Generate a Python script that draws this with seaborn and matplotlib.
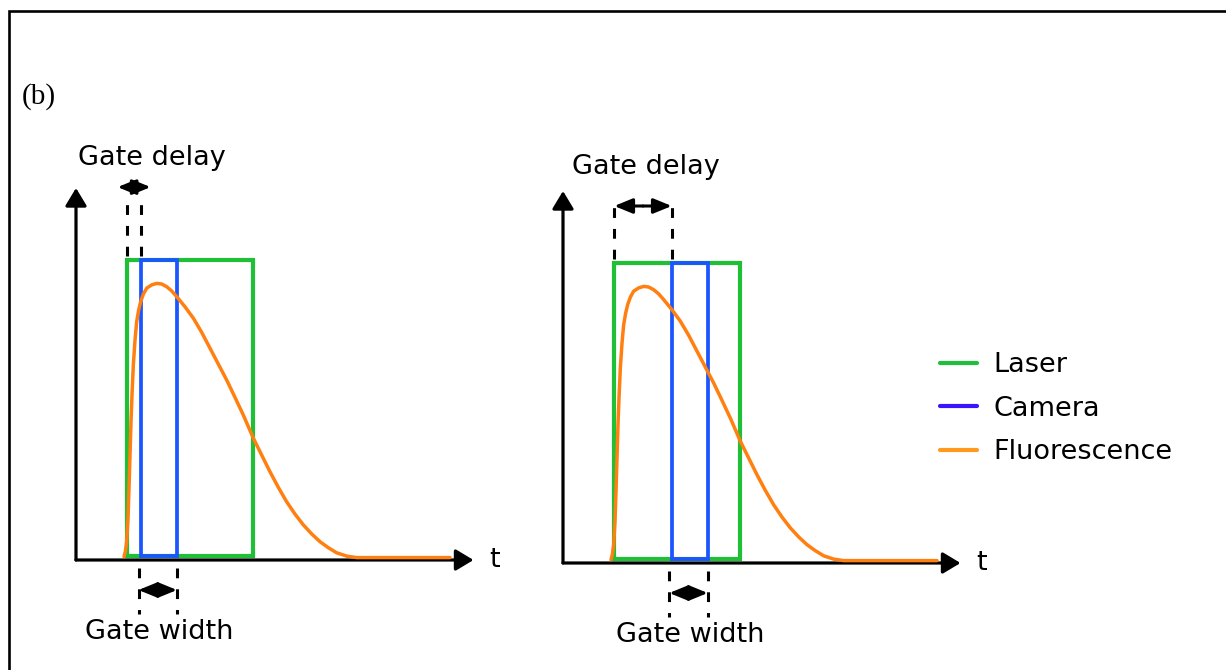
import matplotlib
matplotlib.use("Agg")
import matplotlib.pyplot as plt
import matplotlib.patches as mpatches
from matplotlib.lines import Line2D
import pandas as pd
import seaborn as sns

# fluorescence trace (time, intensity; laser height = 1)
TIME = [3.84, 3.947, 4.053, 4.16, 4.24, 4.32, 4.40, 4.48, 4.587, 4.72, 4.853, 5.013,
        5.173, 5.387, 5.653, 6.053, 6.453, 6.853, 7.253, 7.653, 8.053, 8.72, 9.387,
        10.053, 10.72, 11.387, 12.053, 12.72, 13.387, 14.187, 14.853, 15.52, 16.187,
        16.853, 17.52, 18.187, 18.853, 19.52, 20.187, 20.853, 21.653, 22.453, 29.92]
FLUOR = [0.011, 0.028, 0.061, 0.139, 0.239, 0.35, 0.461, 0.55, 0.65, 0.733, 0.794, 0.833,
         0.861, 0.886, 0.906, 0.917, 0.922, 0.920, 0.911, 0.897, 0.878, 0.844, 0.806,
         0.759, 0.706, 0.653, 0.60, 0.542, 0.483, 0.406, 0.35, 0.294, 0.242,
         0.194, 0.153, 0.117, 0.087, 0.061, 0.041, 0.024, 0.013, 0.008, 0.008]
LASER_ON = 4.1
LASER_OFF = 14.15
GATE_DELAYS = [1.1, 4.6]      # left panel, right panel
GATE_WIDTH = 2.88
LEGEND_LABELS = ["Laser", "Camera", "Fluorescence"]

GREEN = "#1fbf36"
BLUE = "#1a55ff"
ORANGE = "#ff7f10"
LEG_COLORS = ["#1fbf3c", "#3a14ff", "#ff9a1e"]
FS = 19.5

sns.set_theme(style="white")
plt.rcParams["font.family"] = ["DejaVu Sans"]
plt.rcParams["text.color"] = "black"

fig = plt.figure(figsize=(12.26, 6.70), dpi=100)
W, H = 1226, 670

# outer frame (only top and left edges fall inside the image)
fig.add_artist(mpatches.Rectangle((9 / W, -0.2), 1.2, 1.2 - 11 / H, transform=fig.transFigure,
                                  fill=False, edgecolor="black", linewidth=1.9))
fig.text(22 / W, 1 - 97 / H, "(b)", fontsize=21, family="Liberation Serif", va="center", ha="left")

df = pd.DataFrame({"t": TIME, "I": FLUOR})

# panel layout: axes left px, axes bottom px, label positions
panels = [
    dict(left=26, bottom=5, delay_y=1.243, delay_text=(6.08, 1.34)),
    dict(left=513, bottom=2, delay_y=1.19, delay_text=(6.64, 1.32)),
]
HEAD = 1.32   # half-length of the shortest double arrow (data units)

dash = (0, (3.2, 3.6))
half_arrow = dict(arrowstyle="-|>,head_length=1.1,head_width=0.45", color="black",
                  lw=2.2, shrinkA=0, shrinkB=0, mutation_scale=10)
axis_kw = dict(arrowstyle="-|>,head_length=1.08,head_width=0.65", color="black",
               lw=2.3, shrinkA=0, shrinkB=0, mutation_scale=10)


def double_arrow(ax, x0, x1, y):
    mid = (x0 + x1) / 2
    half = max((x1 - x0) / 2, HEAD)
    for end in (mid - half, mid + half):
        ax.annotate("", xy=(end, y), xytext=(mid, y), arrowprops=half_arrow, annotation_clip=False)


for p, delay in zip(panels, GATE_DELAYS):
    ax = fig.add_axes([p["left"] / W, p["bottom"] / H, 500 / W, 570 / H])
    ax.set_xlim(-4, 36)
    ax.set_ylim(-0.35, 1.55)
    ax.axis("off")

    cam_on = LASER_ON + delay
    cam_off = cam_on + GATE_WIDTH

    # laser pulse and camera gate
    ax.add_patch(mpatches.Rectangle((LASER_ON, 0.015), LASER_OFF - LASER_ON, 0.985,
                                    fill=False, edgecolor=GREEN, linewidth=3.0, zorder=2))
    ax.add_patch(mpatches.Rectangle((cam_on, 0.015), GATE_WIDTH, 0.985,
                                    fill=False, edgecolor=BLUE, linewidth=2.7, zorder=3))

    sns.lineplot(data=df, x="t", y="I", ax=ax, color=ORANGE, linewidth=2.5, legend=False,
                 zorder=4, solid_joinstyle="round", solid_capstyle="round")

    # axes with arrow heads
    ax.annotate("", xy=(31.8, 0), xytext=(0, 0), arrowprops=axis_kw, annotation_clip=False)
    ax.annotate("", xy=(0, 1.24), xytext=(0, 0), arrowprops=axis_kw, annotation_clip=False)
    ax.text(33.5, 0, "t", fontsize=FS, va="center", ha="center")

    # gate delay marker
    for x in (LASER_ON, cam_on):
        ax.plot([x, x], [1.015, 1.21], color="black", lw=2.2, linestyle=dash)
    double_arrow(ax, LASER_ON, cam_on, p["delay_y"])
    ax.text(*p["delay_text"], "Gate delay", fontsize=FS, va="center", ha="center")

    # gate width marker
    for x in (cam_on - 0.2, cam_off):
        ax.plot([x, x], [-0.027, -0.18], color="black", lw=2.2, linestyle=dash)
    double_arrow(ax, cam_on - 0.2, cam_off, -0.1)
    ax.text((cam_on + cam_off) / 2, -0.24, "Gate width", fontsize=FS, va="center", ha="center")

handles = [Line2D([0], [0], color=c, lw=3.0) for c in LEG_COLORS]
fig.legend(handles, LEGEND_LABELS, loc="upper left", bbox_to_anchor=(940 / W, 1 - 352 / H),
           frameon=False, fontsize=FS, handlelength=1.37, handletextpad=0.6,
           labelspacing=0.655, borderpad=0, borderaxespad=0)

fig.savefig("out.png", dpi=100)
